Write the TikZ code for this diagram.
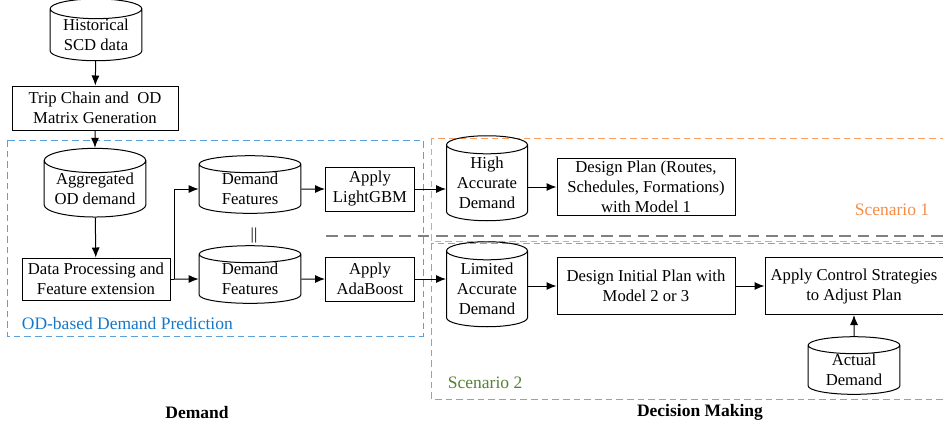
\documentclass[tikz,border=0pt]{standalone}
\usepackage{fontspec}
\setmainfont{Liberation Serif}
\usetikzlibrary{shapes.geometric,arrows.meta}
\definecolor{odblue}{RGB}{20,120,200}
\definecolor{boxblue}{RGB}{90,160,220}
\definecolor{scorange}{RGB}{247,140,70}
\definecolor{boxorange}{RGB}{248,160,100}
\definecolor{scgreen}{RGB}{84,130,53}
\definecolor{boxgreen}{RGB}{146,178,100}
\tikzstyle{box} = [draw, semithick, align=center, inner sep=1pt, font=\fontsize{10}{12}\selectfont]
\tikzstyle{store} = [draw, semithick, cylinder, shape border rotate=90, aspect=0.3, align=center, inner sep=0pt, font=\fontsize{10}{12}\selectfont]
\tikzstyle{flow} = [semithick, -{Latex[length=6pt,width=4.8pt]}]
\tikzstyle{region} = [semithick, dash pattern=on 4pt off 2.4pt]

\begin{document}
\begin{tikzpicture}[x=0.6pt, y=-0.6pt]
	  \useasboundingbox (0,0) rectangle (943,427);

	  % regions
	  \draw [region, boxblue] (7,140) rectangle (423,336);
	  \draw [region, boxorange] (431,138) rectangle (943,241);
	  \draw [region, boxgreen] (431,243) rectangle (943,399);
	  \draw [gray, line width=1.2pt, dash pattern=on 7pt off 4pt] (326,236) -- (943,236);

	  \node (hist) at ( 96,35) [store, minimum width=55pt, minimum height=30pt] {Historical\\SCD data};
	  \node (trip) at ( 95,108) [box, minimum width=99.6pt, minimum height=26.4pt] {Trip Chain and\ \ OD\\Matrix Generation};
	  \node (agg) at ( 95,189) [store, minimum width=61pt, minimum height=33pt] {Aggregated\\OD demand};
	  \node (dp) at ( 96,279) [box, minimum width=88.8pt, minimum height=25.2pt] {Data Processing and\\Feature extension};
	  \node (df1) at ( 250,189) [store, minimum width=61pt, minimum height=32pt] {Demand\\Features};
	  \node (df2) at ( 250,279) [store, minimum width=61pt, minimum height=32pt] {Demand\\Features};
	  \node (eq) at ( 254,236) [font=\fontsize{10}{12}\selectfont] {||};
	  \node (lgbm) at ( 370,189) [box, minimum width=53.4pt, minimum height=26.4pt] {Apply\\LightGBM};
	  \node (ada) at ( 370,279) [box, minimum width=53.4pt, minimum height=26.4pt] {Apply\\AdaBoost};
	  \node (high) at ( 487,183) [store, minimum width=48.6pt, minimum height=51pt] {High\\Accurate\\Demand};
	  \node (plan) at ( 646,187) [box, minimum width=106.8pt, minimum height=34.2pt] {Design Plan (Routes,\\Schedules, Formations)\\with Model 1};
	  \node (lim) at ( 487,289) [store, minimum width=48.6pt, minimum height=51pt] {Limited\\Accurate\\Demand};
	  \node (init) at ( 646,286) [box, minimum width=106.8pt, minimum height=34.2pt] {Design Initial Plan with\\Model 2 or 3};
	  \node (ctrl) at ( 854,286) [box, minimum width=106.8pt, minimum height=34.2pt] {Apply Control Strategies\\to Adjust Plan};
	  \node (act) at ( 854,370) [store, minimum width=55pt, minimum height=33pt] {Actual\\Demand};
	  \coordinate (split) at ( 174,279);

	  \node (odlab) at ( 16,324) [anchor=west, odblue, font=\fontsize{10.5}{12}\selectfont] {OD-based Demand Prediction};
	  \node (sc1) at ( 935,210) [anchor=east, scorange, font=\fontsize{10.5}{12}\selectfont] {Scenario 1};
	  \node (sc2) at ( 442,383) [anchor=west, scgreen, font=\fontsize{10.5}{12}\selectfont] {Scenario 2};
	  \node (demlab) at ( 197,412) [font=\fontsize{10.5}{12}\selectfont\bfseries] {Demand};
	  \node (declab) at ( 700,412) [font=\fontsize{10.5}{12}\selectfont\bfseries] {Decision Making};

	  \draw [flow] (hist) to (trip);
	  \draw [flow] (trip) to (agg);
	  \draw [flow] (agg) to (dp);
	  \draw [semithick] (dp) to (split);
	  \draw [flow] (split) |- (df1);
	  \draw [flow] (split) to (df2);
	  \draw [flow] (df1) to (lgbm);
	  \draw [flow] (df2) to (ada);
	  \draw [flow] (lgbm) to (lgbm -| high.west);
	  \draw [flow] (ada) to (ada -| lim.west);
	  \draw [flow] (high.east |- plan) to (plan);
	  \draw [flow] (lim.east |- init) to (init);
	  \draw [flow] (init) to (ctrl);
	  \draw [flow] (act) to (ctrl);
	\end{tikzpicture}
\end{document}
